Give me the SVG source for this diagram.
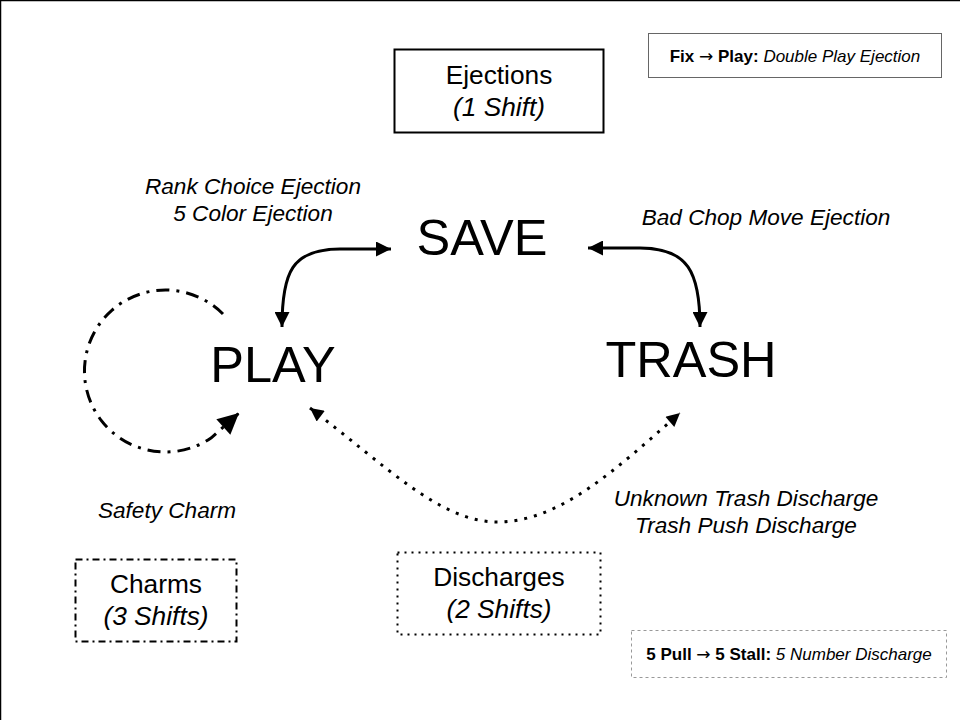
<svg xmlns="http://www.w3.org/2000/svg" width="960" height="720" viewBox="0 0 960 720">
<style>
  text { font-family: "Liberation Sans", Arial, sans-serif; fill: #000; }
  .big { font-size: 50.5px; text-anchor: middle; }
  .box { font-size: 26.3px; text-anchor: middle; }
  .lbl { font-size: 22.6px; font-style: italic; text-anchor: middle; }
  .leg { font-size: 17px; text-anchor: middle; }
  .it { font-style: italic; }
  .b { font-weight: bold; }
  .arr { font-family: "DejaVu Sans", sans-serif; font-weight: normal; }
  .edge { fill: none; stroke: #000; stroke-width: 3; }
</style>
<defs>
  <marker id="ah" viewBox="0 0 10 10" refX="10" refY="5" markerWidth="6" markerHeight="5" markerUnits="strokeWidth" orient="auto-start-reverse">
    <path d="M0,0 L10,5 L0,10 z" fill="#000"/>
  </marker>
  <marker id="ahs" viewBox="0 0 10 10" refX="10" refY="5" markerWidth="5" markerHeight="4.5" markerUnits="strokeWidth" orient="auto-start-reverse">
    <path d="M0,0 L10,5 L0,10 z" fill="#000"/>
  </marker>
  <marker id="ahl" viewBox="0 0 10 10" refX="10" refY="5" markerWidth="8.5" markerHeight="7" markerUnits="strokeWidth" orient="auto">
    <path d="M0,0 L10,5 L0,10 z" fill="#000"/>
  </marker>
</defs>
<rect width="960" height="720" fill="#fff"/>
<path d="M0.5,720 V0.5 H960" fill="none" stroke="#000" stroke-width="1.5"/>

<g id="connectors">
  <path class="edge" d="M282,327 C282,272 292,249 340,249 L391,249" marker-start="url(#ah)" marker-end="url(#ah)"/>
  <path class="edge" d="M588,248 L640,248 C688,248 700,272 700,327" marker-start="url(#ah)" marker-end="url(#ah)"/>
  <path class="edge" d="M310,408 C385,465 440,522 497,522 C560,522 615,470 680,413" stroke-dasharray="3 7" marker-start="url(#ahs)" marker-end="url(#ahs)"/>
  <path class="edge" d="M223,314 A81,81 0 1 0 211,438 L239,413" stroke-dasharray="13 7 3 7" marker-end="url(#ahl)"/>
</g>

<g id="node-save"><text class="big" x="482" y="255">SAVE</text></g>
<g id="node-play"><text class="big" x="273" y="382">PLAY</text></g>
<g id="node-trash"><text class="big" x="691" y="377">TRASH</text></g>

<g id="node-ejections">
  <rect x="394.5" y="49.5" width="209" height="83" fill="none" stroke="#000" stroke-width="2"/>
  <text class="box" x="499" y="84">Ejections</text>
  <text class="box it" x="499" y="116">(1 Shift)</text>
</g>
<g id="node-charms">
  <rect x="75.5" y="559.5" width="161" height="82" fill="none" stroke="#000" stroke-width="2" stroke-dasharray="7 4 2 4"/>
  <text class="box" x="156" y="593">Charms</text>
  <text class="box it" x="156" y="625">(3 Shifts)</text>
</g>
<g id="node-discharges">
  <rect x="397.5" y="552.5" width="203" height="82" fill="none" stroke="#000" stroke-width="2" stroke-dasharray="2 5"/>
  <text class="box" x="499" y="586">Discharges</text>
  <text class="box it" x="499" y="618">(2 Shifts)</text>
</g>

<g id="labels">
  <text class="lbl" x="253" y="194">Rank Choice Ejection</text>
  <text class="lbl" x="253" y="221">5 Color Ejection</text>
  <text class="lbl" x="766" y="225">Bad Chop Move Ejection</text>
  <text class="lbl" x="167" y="518">Safety Charm</text>
  <text class="lbl" x="746" y="506">Unknown Trash Discharge</text>
  <text class="lbl" x="746" y="533">Trash Push Discharge</text>
</g>

<g id="legend-fix">
  <rect x="648.5" y="33.5" width="293" height="44" fill="none" stroke="#666" stroke-width="1"/>
  <text class="leg" x="795" y="62"><tspan class="b">Fix <tspan class="arr">→</tspan> Play:</tspan> <tspan class="it">Double Play Ejection</tspan></text>
</g>
<g id="legend-pull">
  <rect x="631.5" y="630.5" width="315" height="47" fill="none" stroke="#999" stroke-width="1" stroke-dasharray="3 3"/>
  <text class="leg" x="789" y="660"><tspan class="b">5 Pull <tspan class="arr">→</tspan> 5 Stall:</tspan> <tspan class="it">5 Number Discharge</tspan></text>
</g>
</svg>
